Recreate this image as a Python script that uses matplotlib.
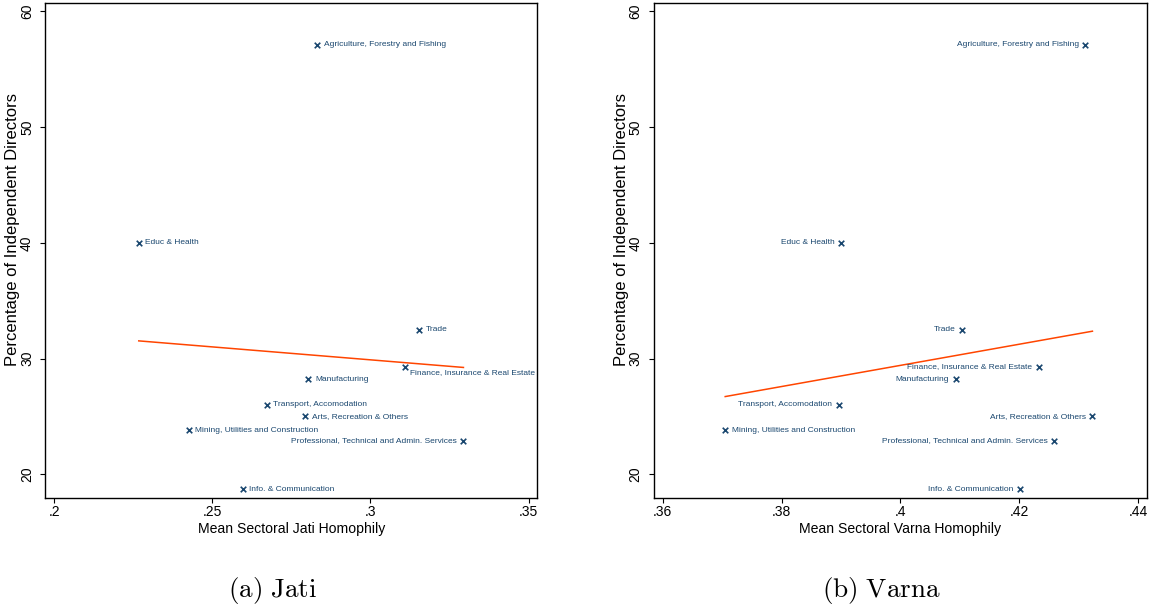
import numpy as np
import matplotlib
matplotlib.use("Agg")
import matplotlib.pyplot as plt
from matplotlib.ticker import FixedLocator, FuncFormatter

plt.rcParams["font.family"] = ["Liberation Sans", "DejaVu Sans"]
plt.rcParams["mathtext.fontset"] = "cm"

# Sector-level data
sectors = [
    "Agriculture, Forestry and Fishing",
    "Educ & Health",
    "Trade",
    "Finance, Insurance & Real Estate",
    "Manufacturing",
    "Transport, Accomodation",
    "Arts, Recreation & Others",
    "Mining, Utilities and Construction",
    "Professional, Technical and Admin. Services",
    "Info. & Communication",
]
pct_independent = [57.1, 40.0, 32.5, 29.3, 28.2, 26.0, 25.0, 23.8, 22.9, 18.7]
jati_homophily = [0.2832, 0.2267, 0.3153, 0.3109, 0.2803, 0.2672, 0.2794, 0.2425, 0.3294, 0.2596]
varna_homophily = [0.4311, 0.3900, 0.4104, 0.4233, 0.4093, 0.3896, 0.4323, 0.3705, 0.4259, 0.4201]

jati_ticks = [0.20, 0.25, 0.30, 0.35]
varna_ticks = [0.36, 0.38, 0.40, 0.42, 0.44]
y_ticks = [20, 30, 40, 50, 60]

# Label placement (clock positions, Stata style)
jati_labpos = {"Finance, Insurance & Real Estate": 4,
               "Professional, Technical and Admin. Services": 9}
varna_labpos = {"Mining, Utilities and Construction": 3}
jati_default, varna_default = 3, 9

NAVY = "#1a476f"
FIT = "#ff4500"

W, H = 1153, 609
fig = plt.figure(figsize=(W / 100, H / 100), dpi=100)


def stata_fmt(v, _pos=None):
    s = f"{v:.2f}".rstrip("0").rstrip(".")
    if s.startswith("0."):
        s = s[1:]
    return s


def panel(rect, xs, xlim, xticks, xlabel, labpos, default_pos):
    ax = fig.add_axes(rect)
    ax.scatter(xs, pct_independent, marker="x", s=16, linewidths=1.2,
               color=NAVY, zorder=3)
    slope, icpt = np.polyfit(xs, pct_independent, 1)
    xl = np.array([min(xs), max(xs)])
    ax.plot(xl, icpt + slope * xl, color=FIT, lw=1.1, zorder=2)
    for name, x, y in zip(sectors, xs, pct_independent):
        pos = labpos.get(name, default_pos)
        if pos == 3:
            off, ha, va = (4.8, 0), "left", "center"
        elif pos == 9:
            off, ha, va = (-4.8, 0), "right", "center"
        else:  # 4 o'clock
            off, ha, va = (3.6, -4.3), "left", "center"
        ax.annotate(name, (x, y), xytext=off, textcoords="offset points",
                    ha=ha, va=va, fontsize=6.0, color=NAVY)
    ax.set_xlim(*xlim)
    ax.set_ylim(17.98, 60.72)
    ax.xaxis.set_major_locator(FixedLocator(xticks))
    ax.xaxis.set_major_formatter(FuncFormatter(stata_fmt))
    ax.yaxis.set_major_locator(FixedLocator(y_ticks))
    ax.tick_params(axis="both", direction="out", length=3.6, width=0.8,
                   labelsize=10, top=False, right=False)
    ax.tick_params(axis="x", pad=2)
    ax.tick_params(axis="y", pad=4.5)
    for lab in ax.get_yticklabels():
        lab.set_rotation(90)
        lab.set_va("center")
    for sp in ax.spines.values():
        sp.set_linewidth(1.0)
    ax.set_xlabel(xlabel, fontsize=10.1, labelpad=2)
    ax.set_ylabel("Percentage of Independent Directors", fontsize=12)
    # title sits 25 px left of the frame, a little above the middle
    wpx = rect[2] * W
    ax.yaxis.set_label_coords(-25.0 / wpx, 0.542)
    return ax


bottom = 1 - 497.7 / H
height = (497.7 - 3) / H
panel([45.2 / W, bottom, (537.1 - 45.2) / W, height], jati_homophily,
      (0.1971, 0.3527), jati_ticks, "Mean Sectoral Jati Homophily",
      jati_labpos, jati_default)
panel([653.9 / W, bottom, (1146.5 - 653.9) / W, height], varna_homophily,
      (0.3585, 0.4414), varna_ticks, "Mean Sectoral Varna Homophily",
      varna_labpos, varna_default)

fig.text(273 / W, 1 - 590 / H, r"$\mathrm{(a)\ Jati}$", fontsize=19.5,
         ha="center", va="center")
fig.text(881 / W, 1 - 590 / H, r"$\mathrm{(b)\ Varna}$", fontsize=19.5,
         ha="center", va="center")

fig.savefig("out.png", dpi=100, facecolor="white")
